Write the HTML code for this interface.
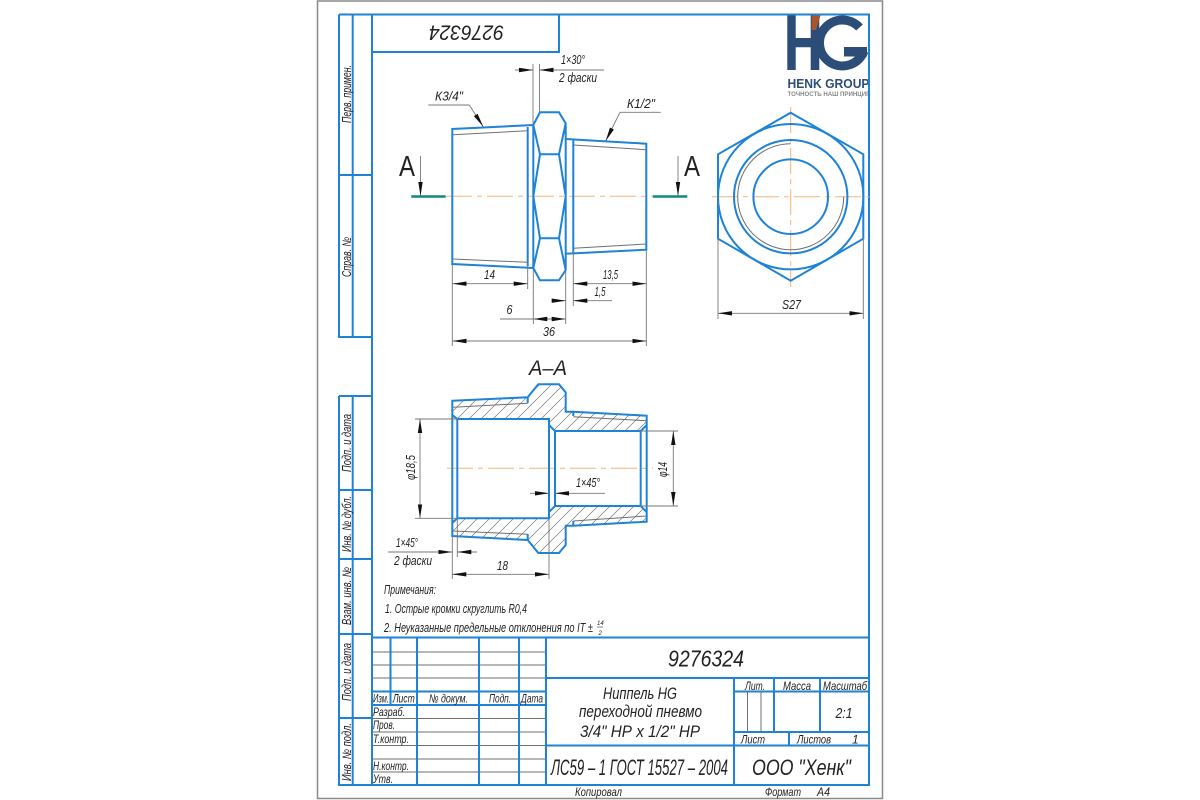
<!DOCTYPE html>
<html><head><meta charset="utf-8"><style>
html,body{margin:0;padding:0;background:#fff}
svg{display:block}
text{font-family:"Liberation Sans","Noto Sans CJK SC",sans-serif;font-style:italic;fill:#222}
.b{fill:none;stroke:#1e83d6;stroke-width:2}
.g{fill:none;stroke:#6f6f6f;stroke-width:1}
.d{fill:none;stroke:#777;stroke-width:.9}
.c{fill:none;stroke:#f0b676;stroke-width:1;stroke-dasharray:26 5 5 5}
.a{marker-end:url(#ar)}
.aa{marker-start:url(#ar);marker-end:url(#ar)}
</style></head><body>
<svg width="1200" height="800" viewBox="0 0 1200 800" xmlns="http://www.w3.org/2000/svg">
<defs>
<marker id="ar" markerUnits="userSpaceOnUse" markerWidth="14" markerHeight="6" viewBox="0 0 14 6" refX="14" refY="3" orient="auto-start-reverse"><path d="M0 .8L14 3L0 5.2z" fill="#111"/></marker>
<pattern id="h" patternUnits="userSpaceOnUse" width="12" height="12"><path d="M-1 13L13 -1M-1 1L1 -1M11 13L13 11" stroke="#777" stroke-width=".7" fill="none"/></pattern>
</defs>
<rect x="317.5" y="1" width="565" height="797.5" fill="#fff" stroke="#8a8a8a" stroke-width="1.5"/>

<!-- logo -->
<path d="M787.300 14H795.700V38H810.700V14H819.300V70H810.700V47.300H795.700V70H787.300z" fill="#2b4d78"/>
<path d="M811.700 14H821L816 30H811.700z" fill="#a8552c"/>
<path d="M859.500 27.500A23 23 0 1 0 864 51" fill="none" stroke="#2b4d78" stroke-width="9"/>
<rect x="844" y="47" width="23" height="9.500" fill="#2b4d78"/>
<text x="787.500" y="88" font-size="12.500" font-weight="700" style="font-style:normal;fill:#2b4d78" textLength="82" lengthAdjust="spacingAndGlyphs">HENK GROUP</text>
<text x="787.500" y="96" font-size="6" font-weight="700" style="font-style:normal;fill:#888" textLength="83" lengthAdjust="spacingAndGlyphs">ТОЧНОСТЬ НАШ ПРИНЦИП</text>

<!-- frame -->
<path class="b" d="M339 14.500H869V785H339V718H372M372 14.500V785M339 14.500V337H372M339 175H372M352.700 14.500V337M339 396V785M339 396H372M339 490H372M339 559H372M339 634H372M352.700 396V785M372 52H559V14.500"/>

<!-- title block table -->
<path class="g" d="M372 652H546M372 665H546M372 678H546M372 718.500H546M372 732H546M372 745.500H546M372 759H546M372 772H546M747.500 691.500V732M761 691.500V732"/>
<path class="b" d="M372 637.500H869M372 691.500H546M372 705H546M390.500 637.500V705M417 637.500V785M479 637.500V785M519 637.500V785M546 637.500V785M546 678H869M546 745.500H869M734 678V785M734 691.500H869M734 732H869M774 678V732M820 678V732M789 732V745.500"/>

<!-- side labels -->
<g font-size="12.500">
<text transform="translate(351 123) rotate(-90)" textLength="58" lengthAdjust="spacingAndGlyphs">Перв. примен.</text>
<text transform="translate(351 277) rotate(-90)" textLength="40" lengthAdjust="spacingAndGlyphs">Справ. №</text>
<text transform="translate(351 472) rotate(-90)" textLength="58" lengthAdjust="spacingAndGlyphs">Подп. и дата</text>
<text transform="translate(351 552) rotate(-90)" textLength="56" lengthAdjust="spacingAndGlyphs">Инв. № дубл.</text>
<text transform="translate(351 625) rotate(-90)" textLength="58" lengthAdjust="spacingAndGlyphs">Взам. инв. №</text>
<text transform="translate(351 701) rotate(-90)" textLength="58" lengthAdjust="spacingAndGlyphs">Подп. и дата</text>
<text transform="translate(351 781) rotate(-90)" textLength="58" lengthAdjust="spacingAndGlyphs">Инв. № подл.</text>
</g>
<text transform="translate(504 25.500) rotate(180)" font-size="21" textLength="75" lengthAdjust="spacingAndGlyphs">9276324</text>

<!-- table text -->
<g font-size="12">
<text x="373" y="702.500" textLength="16" lengthAdjust="spacingAndGlyphs">Изм.</text>
<text x="392.700" y="702.500" textLength="22" lengthAdjust="spacingAndGlyphs">Лист</text>
<text x="429" y="702.500" textLength="39" lengthAdjust="spacingAndGlyphs">№ докум.</text>
<text x="489" y="702.500" textLength="22" lengthAdjust="spacingAndGlyphs">Подп.</text>
<text x="521" y="702.500" textLength="22" lengthAdjust="spacingAndGlyphs">Дата</text>
<text x="373" y="716" textLength="32" lengthAdjust="spacingAndGlyphs">Разраб.</text>
<text x="373" y="729" textLength="22" lengthAdjust="spacingAndGlyphs">Пров.</text>
<text x="373" y="743" textLength="36" lengthAdjust="spacingAndGlyphs">Т.контр.</text>
<text x="373" y="770" textLength="36" lengthAdjust="spacingAndGlyphs">Н.контр.</text>
<text x="373" y="783" textLength="20" lengthAdjust="spacingAndGlyphs">Утв.</text>
<text x="745" y="690" textLength="20" lengthAdjust="spacingAndGlyphs">Лит.</text>
<text x="783" y="690" textLength="28" lengthAdjust="spacingAndGlyphs">Масса</text>
<text x="823" y="690" textLength="44" lengthAdjust="spacingAndGlyphs">Масштаб</text>
<text x="741" y="743.500" textLength="24" lengthAdjust="spacingAndGlyphs">Лист</text>
<text x="797" y="743.500" textLength="34" lengthAdjust="spacingAndGlyphs">Листов</text>
<text x="852" y="743.500">1</text>
<text x="575" y="796" textLength="47" lengthAdjust="spacingAndGlyphs">Копировал</text>
<text x="765" y="796" textLength="36" lengthAdjust="spacingAndGlyphs">Формат</text>
<text x="817" y="796" textLength="13" lengthAdjust="spacingAndGlyphs">А4</text>
</g>
<text x="668" y="666.500" font-size="23" textLength="76" lengthAdjust="spacingAndGlyphs">9276324</text>
<g font-size="17">
<text x="603" y="699" textLength="74" lengthAdjust="spacingAndGlyphs">Ниппель HG</text>
<text x="579" y="717" textLength="123" lengthAdjust="spacingAndGlyphs">переходной пневмо</text>
<text x="580" y="737" textLength="120" lengthAdjust="spacingAndGlyphs">3/4" НР х 1/2" НР</text>
</g>
<text x="551" y="775" font-size="22" textLength="177" lengthAdjust="spacingAndGlyphs">ЛС59 – 1 ГОСТ 15527 – 2004</text>
<text x="752" y="775" font-size="22" textLength="99" lengthAdjust="spacingAndGlyphs">ООО "Хенк"</text>
<text x="835.500" y="718" font-size="15" textLength="17" lengthAdjust="spacingAndGlyphs">2:1</text>

<!-- centre lines -->
<path class="c" d="M446 196.300H652"/>
<path class="c" d="M712 196.700H869"/>
<path class="c" d="M790.700 107V287"/>
<path class="c" d="M447 468.300H653"/>

<!-- side view -->
<path class="g" d="M453 134.700L527.700 130.700M453 259L527.700 262.300M573.300 145L646 149.700M573.300 248.300L646 244"/>
<path class="b" d="M533.300 125L452.300 129V264L533.300 268M527.700 127V266M533.300 125L540 112.300H559L565.700 123.300V270L559 280.300H540L533.300 268V125M540 154.300H559M540 238.300H559M533.300 125L540 154.300L533.300 196.300L540 238.300L533.300 268M565.700 123.300L559 154.300L565.700 196.300L559 238.300L565.700 270M565.700 139L646.300 143.700V249.700L565.700 253.700M573.300 139.500V253.300"/>
<path d="M411.300 196.500H445.700M652.700 196.500H687.300" fill="none" stroke="#0f8a7d" stroke-width="2.500"/>
<line x1="420.500" y1="156" x2="420.500" y2="196" class="d a"/>
<line x1="678" y1="156" x2="678" y2="196" class="d a"/>
<text x="399" y="176" font-size="29" style="font-style:normal" textLength="16" lengthAdjust="spacingAndGlyphs">A</text>
<text x="684" y="176" font-size="29" style="font-style:normal" textLength="16" lengthAdjust="spacingAndGlyphs">A</text>

<!-- side dims -->
<path class="d" d="M452.300 265V346M527.700 262V289M533.300 270V324M565.700 270V324M573.300 250V306M646.300 250V346M533 64V125M539.500 64V112"/>
<line class="d aa" x1="452.500" y1="283.700" x2="527.700" y2="283.700"/>
<line class="d aa" x1="573.300" y1="283.700" x2="646.300" y2="283.700"/>
<line class="d aa" x1="452.500" y1="341" x2="646.300" y2="341"/>
<line class="d a" x1="551.700" y1="300.700" x2="565.700" y2="300.700"/>
<line class="d a" x1="612" y1="300.700" x2="573.300" y2="300.700"/>
<path class="d" d="M500 319H566"/>
<line class="d a" x1="552" y1="319" x2="533.300" y2="319"/>
<line class="d a" x1="548" y1="319" x2="565.700" y2="319"/>
<line class="d a" x1="515" y1="70" x2="533" y2="70"/>
<line class="d a" x1="604" y1="70" x2="539.500" y2="70"/>
<path class="d" d="M428.300 105H469.300"/>
<line class="d a" x1="469.300" y1="105" x2="483.300" y2="126.700"/>
<path class="d" d="M660.700 112.300H620"/>
<line class="d a" x1="620" y1="112.300" x2="605.700" y2="141"/>
<g font-size="12.500">
<text x="435" y="100.500" textLength="28" lengthAdjust="spacingAndGlyphs">К3/4"</text>
<text x="627" y="108" textLength="28" lengthAdjust="spacingAndGlyphs">К1/2"</text>
<text x="561" y="64" textLength="24" lengthAdjust="spacingAndGlyphs">1×30°</text>
<text x="559" y="82" textLength="38" lengthAdjust="spacingAndGlyphs">2 фаски</text>
<text x="484" y="279" textLength="11" lengthAdjust="spacingAndGlyphs">14</text>
<text x="603" y="279" textLength="15" lengthAdjust="spacingAndGlyphs">13,5</text>
<text x="594.500" y="296" textLength="11" lengthAdjust="spacingAndGlyphs">1,5</text>
<text x="506.500" y="314" textLength="6" lengthAdjust="spacingAndGlyphs">6</text>
<text x="543" y="336" textLength="12" lengthAdjust="spacingAndGlyphs">36</text>
<text x="782" y="309" textLength="19" lengthAdjust="spacingAndGlyphs">S27</text>
</g>

<!-- end view -->
<polygon class="b" points="790.700,112.700 863.300,154.300 863.300,238.700 790.700,280.700 718,238.700 718,154.300"/>
<circle class="b" cx="790.700" cy="196.700" r="72.700"/>
<circle class="b" cx="790.700" cy="196.700" r="56.700"/>
<circle class="b" cx="790.700" cy="196.700" r="37.300"/>
<path class="g" d="M790.700 143.700A53 53 0 1 0 843.700 196.700"/>
<path class="d" d="M718 238V319M863.300 238V319"/>
<line class="d aa" x1="718" y1="313.300" x2="863.300" y2="313.300"/>

<!-- section -->
<path fill="url(#h)" d="M452.300 400.700L527.700 397.300L538.300 384.300H559L565.700 392.300V411.700H573.300L646.700 415.700V425L640.700 431H555L549 425V419H457.300L452.300 415z"/>
<path fill="url(#h)" d="M452.300 536L527.700 540L538.300 553H559L565.700 545V525.700H573.300L646.700 521.700V512L640.700 506H555L549 512V518.300H457.300L452.300 523z"/>
<path class="g" d="M453.300 407.300L527.700 403.300M573.300 416.700L646.700 420.700M453.300 531L527.700 534.300M573.300 521L646.700 516"/>
<path class="b" d="M452.300 400.700L527.700 397.300L538.300 384.300H559L565.700 392.300V411.700H573.300L646.700 415.700V521.700L573.300 525.700H565.700V545L559 553H538.300L527.700 540L452.300 536zM452.300 415L457.300 419H549V518.300H457.300L452.300 523M457.300 419V518.300M549 425L555 431H640.700L646.700 425M549 512L555 506H640.700L646.700 512M555 431V506M640.700 431V506M573.300 411.700V416M573.300 521V525.700M527.700 397.300V403M527.700 534V540"/>

<!-- section dims -->
<path class="d" d="M415 419H457M415 518.300H457M640 431H678M640 506H678M457.300 518V557M452.300 536V579M549 518V579"/>
<line class="d aa" x1="420" y1="419" x2="420" y2="518.300"/>
<line class="d aa" x1="673.300" y1="431" x2="673.300" y2="506"/>
<line class="d a" x1="530" y1="493.300" x2="549" y2="493.300"/>
<line class="d a" x1="605" y1="493.300" x2="555" y2="493.300"/>
<line class="d a" x1="388" y1="552" x2="452.300" y2="552"/>
<line class="d a" x1="477" y1="552" x2="457.300" y2="552"/>
<line class="d aa" x1="452.300" y1="574.300" x2="549" y2="574.300"/>
<g font-size="12.500">
<text transform="translate(415 480) rotate(-90)" textLength="25" lengthAdjust="spacingAndGlyphs">φ18,5</text>
<text transform="translate(667 477) rotate(-90)" textLength="15" lengthAdjust="spacingAndGlyphs">φ14</text>
<text x="576" y="487" textLength="24" lengthAdjust="spacingAndGlyphs">1×45°</text>
<text x="396" y="547" textLength="22" lengthAdjust="spacingAndGlyphs">1×45°</text>
<text x="394" y="565" textLength="38" lengthAdjust="spacingAndGlyphs">2 фаски</text>
<text x="497" y="570" textLength="11" lengthAdjust="spacingAndGlyphs">18</text>
</g>
<text x="529" y="375" font-size="21" textLength="38" lengthAdjust="spacingAndGlyphs">А–А</text>

<!-- notes -->
<g font-size="12.500">
<text x="384" y="594" textLength="52" lengthAdjust="spacingAndGlyphs">Примечания:</text>
<text x="385" y="613" textLength="142" lengthAdjust="spacingAndGlyphs">1. Острые кромки скруглить R0,4</text>
<text x="384" y="632" textLength="209" lengthAdjust="spacingAndGlyphs">2. Неуказанные предельные отклонения по IT ±</text>
</g>
<text x="597" y="625" font-size="6">14</text>
<text x="598.500" y="635" font-size="6">2</text>
<path class="d" d="M597 627H603"/>
</svg>
</body></html>
